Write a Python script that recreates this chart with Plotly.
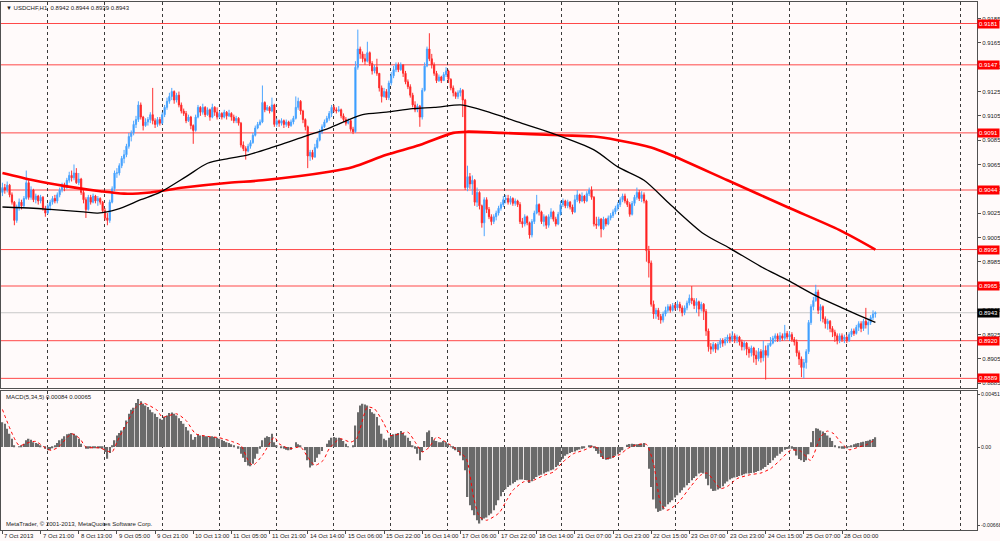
import numpy as np
import plotly.graph_objects as go

# ---- USDCHF H1 bars (prices in pips, 0.9046 -> 9046) ----
first_open = 9042
close_pips = [
    9046, 9044, 9048, 9040, 9034, 9019, 9030, 9034, 9031, 9037, 9050, 9038, 9044, 9036, 9039, 9035,
    9038, 9029, 9025, 9031, 9034, 9037, 9035, 9040, 9044, 9048, 9046, 9052, 9056, 9054, 9058, 9050,
    9053, 9042, 9036, 9028, 9038, 9034, 9039, 9035, 9037, 9034, 9027, 9021, 9019, 9034, 9045, 9058,
    9058, 9064, 9070, 9073, 9080, 9088, 9091, 9098, 9102, 9114, 9104, 9097, 9100, 9102, 9106, 9101,
    9098, 9102, 9099, 9106, 9112, 9117, 9121, 9125, 9118, 9122, 9114, 9109, 9107, 9101, 9104, 9097,
    9093, 9104, 9112, 9108, 9112, 9106, 9110, 9104, 9112, 9108, 9104, 9107, 9104, 9108, 9105, 9107,
    9104, 9101, 9103, 9099, 9081, 9078, 9076, 9080, 9083, 9089, 9095, 9098, 9100, 9116, 9110, 9112,
    9109, 9114, 9098, 9101, 9099, 9101, 9098, 9100, 9097, 9100, 9103, 9112, 9117, 9109, 9102, 9096,
    9072, 9075, 9071, 9079, 9085, 9092, 9096, 9100, 9103, 9107, 9112, 9110, 9109, 9110, 9105, 9102,
    9099, 9101, 9094, 9092, 9145, 9160, 9156, 9152, 9150, 9157, 9148, 9142, 9145, 9140, 9128, 9121,
    9125, 9120, 9132, 9138, 9143, 9147, 9143, 9147, 9140, 9133, 9129, 9122, 9114, 9110, 9113, 9104,
    9126, 9146, 9160, 9152, 9147, 9140, 9134, 9137, 9134, 9139, 9142, 9135, 9128, 9124, 9121, 9124,
    9126, 9118, 9046, 9055, 9049, 9052, 9034, 9042, 9031, 9017, 9036, 9028, 9022, 9018, 9022, 9025,
    9029, 9032, 9036, 9037, 9034, 9037, 9033, 9035, 9032, 9018, 9016, 9022, 9017, 9007, 9018, 9025,
    9032, 9026, 9018, 9022, 9015, 9022, 9026, 9020, 9016, 9024, 9032, 9035, 9031, 9034, 9030, 9026,
    9036, 9040, 9035, 9039, 9035, 9041, 9044, 9038, 9016, 9015, 9020, 9012, 9020, 9016, 9021, 9023,
    9026, 9029, 9032, 9036, 9039, 9035, 9032, 9024, 9033, 9038, 9042, 9037, 9040, 9035, 8994, 8984,
    8950, 8942, 8945, 8940, 8937, 8942, 8945, 8948, 8945, 8949, 8947, 8950, 8947, 8943, 8947, 8951,
    8955, 8953, 8949, 8952, 8946, 8950, 8944, 8928, 8915, 8913, 8917, 8913, 8917, 8920, 8918, 8921,
    8923, 8921, 8924, 8921, 8923, 8919, 8915, 8918, 8913, 8910, 8914, 8908, 8905, 8911, 8906, 8912,
    8908, 8916, 8918, 8922, 8924, 8921, 8924, 8922, 8926, 8923, 8925, 8921, 8919, 8910, 8905, 8898,
    8902, 8911, 8935, 8948, 8953, 8960, 8945, 8948, 8938, 8934, 8936, 8930, 8927, 8924, 8920, 8924,
    8921, 8923, 8920, 8925, 8928, 8926, 8931, 8934, 8930, 8936, 8933, 8935, 8939, 8942, 8943,
]
high_pips = [
    9050, 9049, 9051, 9049, 9042, 9035, 9032, 9037, 9036, 9039, 9060, 9052, 9047, 9045, 9041, 9040,
    9040, 9039, 9031, 9033, 9036, 9039, 9040, 9042, 9046, 9050, 9050, 9054, 9059, 9060, 9065, 9062,
    9058, 9054, 9044, 9038, 9040, 9040, 9041, 9040, 9039, 9038, 9035, 9029, 9025, 9036, 9047, 9060,
    9062, 9066, 9072, 9077, 9082, 9091, 9093, 9101, 9105, 9117, 9116, 9105, 9103, 9104, 9108, 9128,
    9103, 9104, 9104, 9108, 9114, 9120, 9124, 9128, 9126, 9124, 9125, 9116, 9111, 9109, 9106, 9105,
    9098, 9106, 9114, 9113, 9115, 9113, 9112, 9111, 9115, 9113, 9112, 9109, 9108, 9110, 9109, 9110,
    9108, 9106, 9105, 9104, 9100, 9084, 9080, 9082, 9085, 9091, 9097, 9100, 9102, 9130, 9117, 9114,
    9113, 9120, 9115, 9103, 9102, 9103, 9102, 9102, 9101, 9102, 9105, 9121, 9120, 9118, 9110, 9103,
    9097, 9077, 9077, 9082, 9087, 9094, 9098, 9102, 9105, 9109, 9114, 9114, 9112, 9113, 9111, 9107,
    9104, 9103, 9102, 9096, 9150, 9176, 9162, 9158, 9156, 9166, 9158, 9150, 9147, 9152, 9140, 9130,
    9128, 9127, 9134, 9141, 9146, 9149, 9149, 9149, 9147, 9142, 9135, 9131, 9124, 9117, 9115, 9114,
    9128, 9149, 9162, 9173, 9156, 9149, 9142, 9139, 9138, 9141, 9145, 9143, 9136, 9130, 9125, 9126,
    9128, 9127, 9119, 9064, 9058, 9056, 9053, 9046, 9043, 9032, 9038, 9038, 9030, 9024, 9024, 9027,
    9031, 9034, 9039, 9040, 9040, 9039, 9038, 9037, 9036, 9034, 9021, 9024, 9023, 9018, 9020, 9027,
    9040, 9033, 9027, 9024, 9023, 9024, 9029, 9027, 9022, 9026, 9035, 9037, 9036, 9036, 9035, 9032,
    9040, 9044, 9041, 9042, 9040, 9043, 9046, 9047, 9039, 9022, 9022, 9021, 9022, 9021, 9023, 9025,
    9028, 9031, 9034, 9038, 9041, 9041, 9037, 9034, 9035, 9040, 9046, 9044, 9043, 9042, 9036, 8998,
    8986, 8953, 8947, 8947, 8942, 8944, 8948, 8950, 8950, 8951, 8951, 8953, 8952, 8949, 8949, 8953,
    8958, 8965, 8955, 8955, 8953, 8952, 8951, 8946, 8930, 8918, 8919, 8918, 8919, 8922, 8922, 8923,
    8925, 8926, 8928, 8926, 8925, 8924, 8921, 8920, 8919, 8915, 8916, 8915, 8912, 8914, 8913, 8920,
    8916, 8918, 8923, 8924, 8926, 8926, 8927, 8926, 8933, 8928, 8928, 8927, 8923, 8921, 8912, 8907,
    8905, 8913, 8937, 8950, 8956, 8966, 8962, 8950, 8949, 8940, 8938, 8937, 8932, 8929, 8926, 8926,
    8926, 8925, 8925, 8927, 8930, 8930, 8933, 8936, 8936, 8938, 8947, 8938, 8941, 8945, 8944,
]
low_pips = [
    9039, 9041, 9042, 9038, 9032, 9015, 9017, 9027, 9028, 9030, 9036, 9036, 9036, 9034, 9033, 9032,
    9033, 9027, 9022, 9024, 9027, 9032, 9033, 9033, 9038, 9042, 9043, 9045, 9050, 9051, 9052, 9049,
    9048, 9040, 9033, 9021, 9027, 9032, 9033, 9033, 9031, 9032, 9025, 9019, 9015, 9017, 9033, 9043,
    9054, 9056, 9062, 9066, 9071, 9078, 9084, 9089, 9095, 9100, 9102, 9093, 9096, 9097, 9099, 9098,
    9095, 9096, 9097, 9098, 9104, 9110, 9115, 9118, 9115, 9116, 9112, 9107, 9105, 9099, 9100, 9094,
    9082, 9092, 9103, 9105, 9106, 9104, 9105, 9101, 9103, 9105, 9102, 9103, 9102, 9103, 9102, 9104,
    9101, 9099, 9099, 9097, 9079, 9076, 9069, 9075, 9078, 9082, 9088, 9094, 9097, 9099, 9108, 9109,
    9107, 9108, 9096, 9096, 9096, 9097, 9095, 9096, 9095, 9096, 9098, 9102, 9110, 9106, 9099, 9093,
    9062, 9068, 9069, 9071, 9078, 9084, 9090, 9095, 9099, 9101, 9104, 9108, 9107, 9108, 9103, 9100,
    9097, 9098, 9092, 9090, 9091, 9143, 9152, 9149, 9147, 9149, 9146, 9139, 9140, 9138, 9125, 9116,
    9120, 9118, 9118, 9130, 9136, 9141, 9141, 9142, 9137, 9131, 9127, 9120, 9112, 9108, 9108, 9096,
    9102, 9125, 9145, 9150, 9144, 9138, 9132, 9133, 9132, 9134, 9137, 9132, 9126, 9121, 9119, 9119,
    9121, 9104, 9044, 9043, 9045, 9040, 9031, 9030, 9028, 9013, 9006, 9025, 9020, 9015, 9016, 9019,
    9023, 9027, 9030, 9033, 9032, 9032, 9031, 9031, 9030, 9016, 9013, 9014, 9015, 9004, 9005, 9016,
    9024, 9023, 9016, 9014, 9012, 9013, 9020, 9018, 9014, 9015, 9023, 9030, 9029, 9029, 9028, 9024,
    9025, 9034, 9033, 9034, 9033, 9034, 9039, 9036, 9014, 9012, 9014, 9005, 9011, 9014, 9015, 9019,
    9021, 9024, 9027, 9030, 9034, 9033, 9030, 9022, 9023, 9031, 9036, 9035, 9034, 9033, 8985, 8972,
    8948, 8938, 8938, 8937, 8934, 8935, 8940, 8943, 8943, 8944, 8945, 8945, 8944, 8940, 8941, 8945,
    8949, 8950, 8946, 8943, 8940, 8944, 8937, 8924, 8911, 8909, 8911, 8910, 8912, 8914, 8915, 8916,
    8918, 8918, 8919, 8918, 8918, 8916, 8912, 8912, 8908, 8906, 8907, 8902, 8900, 8903, 8902, 8903,
    8888, 8906, 8915, 8917, 8919, 8919, 8919, 8920, 8920, 8921, 8920, 8919, 8916, 8907, 8900, 8890,
    8889, 8897, 8909, 8933, 8945, 8952, 8942, 8936, 8935, 8930, 8929, 8927, 8923, 8919, 8917, 8918,
    8919, 8918, 8918, 8919, 8923, 8924, 8925, 8928, 8927, 8928, 8930, 8925, 8933, 8937, 8939,
]

# moving averages, read at a few bars: (bar, price in pips)
ma_black_pts = [
    (0, 9030), (13, 9029), (20, 9028), (34, 9026), (40, 9025), (48, 9028), (58, 9036), (66, 9042),
    (77, 9055), (86, 9066), (95, 9070), (103, 9073), (113, 9079), (128, 9089), (137, 9095),
    (151, 9106), (161, 9108), (172, 9111), (181, 9112), (192, 9114), (195, 9113), (204, 9108),
    (216, 9100), (230, 9091), (248, 9077), (258, 9063), (269, 9052), (280, 9032), (294, 9008),
    (305, 8996), (318, 8981), (329, 8970), (342, 8956), (352, 8947), (366, 8935),
]
ma_red_pts = [
    (0, 9058), (13, 9052), (27, 9047), (41, 9043), (51, 9041), (62, 9042), (76, 9046), (95, 9050),
    (109, 9052), (137, 9059), (147, 9063), (161, 9073), (175, 9081), (189, 9091), (195, 9092),
    (209, 9091), (234, 9089), (248, 9088), (258, 9085), (272, 9079), (280, 9073), (304, 9052),
    (329, 9030), (351, 9011), (366, 8995),
]

# MACD(5,34,5) histogram per bar, in units of 1e-5
macd_hist_e5 = [
    212, 198, 156, 113, 71, 14, 0, 6, 14, 28, 57, 71, 62, 42, 34, 28,
    14, 0, -14, -28, -23, -6, 14, 34, 57, 71, 91, 108, 113, 119, 113, 99,
    71, 28, 0, -14, -14, -8, -8, -6, -6, -8, -14, -42, -99, -51, 14, 57,
    99, 119, 142, 170, 226, 283, 317, 334, 374, 410, 391, 368, 354, 340, 317, 297,
    283, 255, 241, 232, 255, 269, 289, 294, 283, 269, 246, 221, 198, 170, 142, 108,
    62, 85, 108, 99, 99, 91, 91, 85, 91, 85, 79, 71, 62, 51, 42, 34,
    23, 14, 0, -14, -57, -91, -127, -156, -164, -142, -99, -57, -14, 57, 79, 91,
    85, 113, 42, 14, 0, -6, -14, -23, -28, -23, 0, 42, 23, 14, 0, -28,
    -113, -175, -156, -127, -91, -62, -34, 0, 28, 57, 79, 85, 79, 79, 71, 51,
    28, 6, 0, 14, 184, 297, 354, 368, 362, 354, 325, 297, 283, 255, 184, 113,
    71, 57, 79, 99, 108, 113, 119, 136, 119, 99, 79, 51, 14, -14, -57, -113,
    -42, 51, 127, 142, 85, 57, 51, 42, 42, 51, 42, 28, 6, -14, -28, -42,
    -71, -113, -198, -425, -495, -538, -580, -623, -651, -623, -609, -600, -580, -566, -538, -495,
    -453, -419, -382, -359, -340, -325, -311, -297, -283, -277, -277, -280, -283, -306, -291, -272,
    -255, -243, -235, -224, -215, -207, -198, -190, -170, -156, -127, -99, -74, -62, -51, -42,
    -37, -28, -20, -14, -8, 0, 8, 14, -8, -34, -57, -85, -102, -108, -105, -99,
    -91, -74, -62, -45, -28, 0, 20, 25, 28, 25, 23, 25, 28, 34, 0, -184,
    -340, -447, -524, -552, -543, -532, -509, -487, -470, -453, -430, -410, -388, -368, -345, -325,
    -306, -283, -263, -249, -226, -218, -226, -269, -325, -354, -374, -371, -362, -351, -334, -311,
    -294, -277, -266, -260, -255, -246, -241, -232, -226, -224, -221, -218, -212, -204, -198, -184,
    -170, -153, -136, -113, -91, -74, -57, -40, -23, -17, -14, -14, -28, -71, -102, -113,
    -127, -113, -62, 42, 136, 161, 156, 142, 133, 119, 99, 79, 51, 14, 0, -8,
    -14, -14, -6, 6, 11, 23, 31, 34, 40, 45, 51, 54, 62, 68, 84,
]
# signal line (dotted red), read at a few bars: (bar, value e-5)
signal_pts = [
    (0, 320), (7, 14), (11.5, 42), (14, 48), (18.5, -14), (20.5, -28), (23.5, 0), (29, 113),
    (32.5, 71), (35, 0), (41, -8), (44, -34), (46, -42), (48, 42), (52, 198), (56, 340),
    (59, 374), (65, 311), (67, 255), (73, 283), (77, 226), (81, 113), (86, 91), (91, 79),
    (97, 42), (100, 14), (103, -113), (105, -156), (109, -71), (114, 85), (116, 28), (120.5, -14),
    (125, 0), (128, -85), (131, -156), (134.5, -113), (137, -14), (141.5, 71), (146, 42),
    (148.5, 71), (153, 340), (156, 325), (160, 198), (162.5, 99), (167, 113), (170, 127),
    (173.5, 28), (176, -42), (179, 0), (182, 85), (186, 42), (190, -14), (194.5, -99),
    (197.5, -425), (200, -594), (203, -623), (207, -580), (208.6, -552), (211.4, -453),
    (214, -368), (218.4, -297), (222.6, -283), (227, -241), (231, -212), (235, -127),
    (239.4, -57), (243.6, -28), (248, 6), (250.6, -28), (252, -99), (254.8, -91), (259, -62),
    (262, -14), (266, 20), (270, 23), (273, -142), (276, -481), (278.6, -538), (283, -481),
    (288.4, -340), (292.6, -241), (295.4, -221), (298.2, -283), (301, -354), (304, -334),
    (308, -269), (313.6, -235), (318, -221), (322, -184), (326, -113), (330.4, -28),
    (334.6, -34), (338.8, -113), (343, 85), (345.8, 136), (348.6, 113), (351.4, 42),
    (355, -23), (359, 0), (362.6, 23), (366, 65),
]

levels = [0.9181, 0.9147, 0.9091, 0.9044, 0.8995, 0.8965, 0.8920, 0.8889]
bid = 0.8943
price_ticks = [0.8885 + 0.002 * k for k in range(16)]
macd_ticks = [0.00451, 0.0, -0.00668]
macd_tick_text = ["0.00451", "0.00", "-0.00668"]
time_labels = [
    "7 Oct 2013", "7 Oct 21:00", "8 Oct 13:00", "9 Oct 05:00", "9 Oct 21:00", "10 Oct 13:00",
    "11 Oct 05:00", "11 Oct 21:00", "14 Oct 14:00", "15 Oct 06:00", "15 Oct 22:00",
    "16 Oct 14:00", "17 Oct 06:00", "17 Oct 22:00", "18 Oct 14:00", "21 Oct 07:00",
    "21 Oct 23:00", "22 Oct 15:00", "23 Oct 07:00", "23 Oct 23:00", "24 Oct 15:00",
    "25 Oct 07:00", "28 Oct 00:00",
]
label_step = 16

# ---- build ----
c = np.array(close_pips) / 1e4
o = np.concatenate([[first_open / 1e4], c[:-1]])   # H1 fx bars open at the prior close
h = np.maximum(np.array(high_pips) / 1e4, np.maximum(o, c))
l = np.minimum(np.array(low_pips) / 1e4, np.minimum(o, c))
bars = np.arange(len(c))

BG = "#FFFAFA"
TXT = "#1a1a1a"
FONT = "Liberation Sans"

fig = go.Figure()
fig.add_trace(go.Candlestick(
    x=bars, open=o, high=h, low=l, close=c,
    increasing=dict(line=dict(color="#4DA6FF", width=1), fillcolor="#1E90FF"),
    decreasing=dict(line=dict(color="#FF3030", width=1), fillcolor="#FF0000"),
    whiskerwidth=0, xaxis="x", yaxis="y", showlegend=False,
))
fig.add_trace(go.Scatter(
    x=[p[0] for p in ma_red_pts], y=[p[1] / 1e4 for p in ma_red_pts],
    mode="lines", line=dict(color="#FF0000", width=2.6, shape="spline", smoothing=0.8),
    xaxis="x", yaxis="y", showlegend=False,
))
fig.add_trace(go.Scatter(
    x=[p[0] for p in ma_black_pts], y=[p[1] / 1e4 for p in ma_black_pts],
    mode="lines", line=dict(color="#000000", width=1.3, shape="spline", smoothing=0.8),
    xaxis="x", yaxis="y", showlegend=False,
))
fig.add_trace(go.Bar(
    x=bars, y=np.array(macd_hist_e5) / 1e5, width=0.62,
    marker=dict(color="#6a6a6a", line=dict(width=0)), xaxis="x2", yaxis="y2", showlegend=False,
))
fig.add_trace(go.Scatter(
    x=[p[0] for p in signal_pts], y=[p[1] / 1e5 for p in signal_pts],
    mode="lines", line=dict(color="#FF0000", width=1, dash="dot", shape="spline", smoothing=0.6),
    xaxis="x2", yaxis="y2", showlegend=False,
))

# horizontal levels
for v in levels:
    fig.add_shape(type="line", xref="x domain", yref="y", x0=0, x1=1, y0=v, y1=v,
                  line=dict(color="#FF4848", width=1), layer="below")
    fig.add_annotation(xref="paper", yref="y", x=1, y=v, xanchor="left", yanchor="middle",
                       text=f"{v:.4f}", showarrow=False, bgcolor="#FF0000", borderpad=1,
                       font=dict(family=FONT, size=6, color="white"))
fig.add_shape(type="line", xref="x domain", yref="y", x0=0, x1=1, y0=bid, y1=bid,
              line=dict(color="#C8C8C8", width=1), layer="below")
fig.add_annotation(xref="paper", yref="y", x=1, y=bid, xanchor="left", yanchor="middle",
                   text=f"{bid:.4f}", showarrow=False, bgcolor="#000000", borderpad=1,
                   font=dict(family=FONT, size=6, color="white"))

# texts
fig.add_annotation(xref="paper", yref="y domain", x=0, y=1, xshift=3, yshift=-1,
                   xanchor="left", yanchor="top", showarrow=False,
                   text="▼ USDCHF,H1  0.8942 0.8944 0.8939 0.8943",
                   font=dict(family=FONT, size=6, color=TXT))
fig.add_annotation(xref="paper", yref="y2 domain", x=0, y=1, xshift=3, yshift=-1,
                   xanchor="left", yanchor="top", showarrow=False,
                   text="MACD(5,34,5) 0.00084 0.00065",
                   font=dict(family=FONT, size=6, color=TXT))
fig.add_annotation(xref="paper", yref="y2 domain", x=0, y=0, xshift=3, yshift=1,
                   xanchor="left", yanchor="bottom", showarrow=False,
                   text="MetaTrader, © 2001-2013, MetaQuotes Software Corp.",
                   font=dict(family=FONT, size=6, color=TXT))
for k, t in enumerate(time_labels):
    fig.add_annotation(xref="x2", yref="paper", x=k * label_step, y=0, yshift=-1,
                       xanchor="left", yanchor="top", showarrow=False, text=t,
                       font=dict(family=FONT, size=6, color=TXT))

xr = [-0.6, 408.6]
axis_line = dict(showline=True, mirror=True, linecolor="#505050", linewidth=1)
minor_grid = dict(tick0=19.1, dtick=23.9, showgrid=True, gridcolor="#3a3a3a",
                  griddash="dot", gridwidth=1)
fig.update_layout(
    width=1000, height=541,
    margin=dict(l=1, r=23, t=2, b=11),
    paper_bgcolor=BG, plot_bgcolor=BG,
    font=dict(family=FONT, size=6, color=TXT),
    bargap=0.3,
    xaxis=dict(domain=[0, 1], range=xr, anchor="y", showticklabels=False, showgrid=False,
               zeroline=False, rangeslider=dict(visible=False), ticks="", automargin=False,
               minor=minor_grid, **axis_line),
    xaxis2=dict(domain=[0, 1], range=xr, anchor="y2", matches="x", showticklabels=False,
                showgrid=False, zeroline=False, tickmode="array", automargin=False,
                tickvals=[k * label_step for k in range(len(time_labels))],
                ticks="outside", ticklen=3, tickcolor="#505050",
                minor=minor_grid, **axis_line),
    yaxis=dict(domain=[0.269, 1], range=[0.88811, 0.91987], side="right",
               tickmode="array", tickvals=price_ticks, automargin=False,
               ticktext=[f"{v:.4f}" for v in price_ticks],
               ticks="outside", ticklen=3, tickcolor="#505050", showgrid=False, zeroline=False,
               tickfont=dict(family=FONT, size=6, color=TXT), **axis_line),
    yaxis2=dict(domain=[0, 0.263], range=[-0.00706, 0.00476], side="right",
                tickmode="array", tickvals=macd_ticks, ticktext=macd_tick_text, automargin=False,
                ticks="outside", ticklen=2, tickcolor="#505050", showgrid=False, zeroline=False,
                tickfont=dict(family=FONT, size=5.2, color=TXT), **axis_line),
)

# the page body has a default margin; drop it so the figure fills the window
fig.write_html("out.html", config={"displayModeBar": False},
               post_script="document.body.style.margin='0';")
